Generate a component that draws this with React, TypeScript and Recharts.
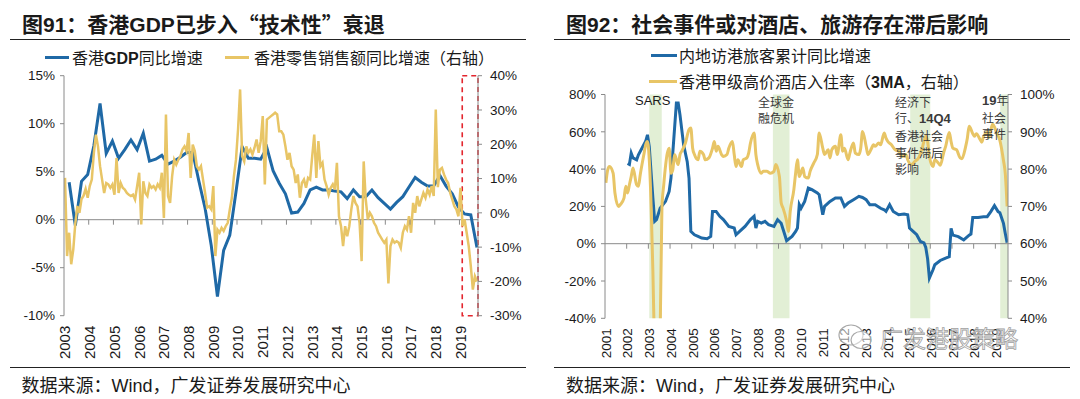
import React from 'react';
import { ComposedChart, Line, XAxis, YAxis, ReferenceLine, ReferenceArea, Scatter } from 'recharts';

const BLUE = '#1f69a6';
const GOLD = '#e8c566';
const AXIS = '#8a8a8a';
const TXT = '#1a1a1a';
const CJK = '"Noto Sans CJK SC", "Liberation Sans", sans-serif';
const ARIAL = '"Liberation Sans", Arial, sans-serif';

// ---------- Figure 91 ----------
const leftYears = ['2003', '2004', '2005', '2006', '2007', '2008', '2009', '2010', '2011', '2012', '2013', '2014', '2015', '2016', '2017', '2018', '2019'];
// HK GDP yoy, quarterly 2003Q1 .. 2019Q3 (%)
const gdpYoY = [
  3.9, -0.6, 4.0, 4.7,
  7.7, 12.1, 6.9, 8.2,
  6.4, 7.3, 8.3, 7.3,
  9.0, 6.1, 6.3, 6.7,
  5.8, 6.1, 6.5, 7.0,
  7.0, 4.0, 1.2, -2.7,
  -8.0, -3.2, -1.6, 2.9,
  7.6, 6.4, 6.4, 6.3,
  7.5, 5.1, 3.8, 2.7,
  0.7, 0.8, 1.7, 3.1,
  3.4, 3.1, 3.1, 3.0,
  2.9, 2.2, 3.1, 2.4,
  2.4, 3.1, 2.3, 1.7,
  1.1, 1.8, 2.4, 3.4,
  4.4, 3.9, 3.5, 3.5,
  4.6, 3.5, 2.7, 1.3,
  0.6, 0.5, -2.9,
];
// HK retail sales value yoy, monthly Jan 2003 .. Sep 2019 (%, right axis)
const retailYoY = [
  10.2, -12.6, -5.8, -15, -10.7, -3, 2, 0, 4, 5, 7, 4.4,
  7.8, 9.7, 17.5, 22.8, 19.4, 13.6, 9.7, 5.8, 8.7, 8.3, 7.3, 8.3,
  5.3, 16, 5.8, 8.7, 7.3, 6.8, 5.8, 5.3, 4.9, 5.3, 3.9, 7.8,
  11.7, -3.4, 9.2, 5.8, 4.9, 8.3, 7.3, 7.8, 6.8, 8.3, 7.3, 11.7,
  -1.5, 28.7, 4.9, 2.9, 10.7, 15.5, 14.1, 15.5, 16.5, 18.5, 19.4, 18,
  23.3, 10.2, 19.9, 18, 13.6, 12.6, 13.6, 9.7, 5.8, 1.5, 1.9, 1,
  7.8, -12.6, -4.9, -5.8, -4.4, -5.3, -3.9, -2.9, 1, 4.4, 10.7, 15.5,
  24.3, 36, 16.5, 15, 19.4, 17.5, 18.5, 17, 19, 21.4, 17.5, 20.9,
  28.2, 8.3, 27.2, 27.7, 28.2, 28.7, 29.2, 28.7, 23.8, 23.8, 22.8, 19.4,
  15.5, 17.5, 13.6, 12.6, 8.7, 11.2, 4.4, 8.7, 9.7, 7.3, 10.2, 9.7,
  16.5, 22.8, 10.2, 20.9, 13.6, 14.6, 9.7, 7.8, 5.3, 7.3, 8.3, 6.8,
  14.6, -1, -3.9, -9.7, -3.9, -6.8, -3.9, 1, 4.9, 2.9, 1.9, -2.9,
  -14.1, 15, 3.9, -1.9, 0, -1, -2.9, -3.9, -5.8, -6.8, -7.8, -8.7,
  -7.8, -20.6, -9.7, -7.8, -8.7, -8.3, -8.7, -10.2, -5.8, -3.9, -4.9, -1,
  -5.8, 2.9, 0, 4.9, 1.9, 3.9, 5.8, 4.4, 6.8, 5.3, 7.8, 4.9,
  30.1, 7.5, 12.6, 13.1, 11.2, 9.7, 8.7, 5.8, 3.9, 1.9, 1.0, -1,
  7.3, -3.9, -1.9, -5.8, -9.7, -15.5, -22.4, -18.5, -20,
];
const leftTicksL = [-10, -5, 0, 5, 10, 15];
const leftTicksR = [-30, -20, -10, 0, 10, 20, 30, 40];
const recessionWindow = [192.85, 200.5]; // months since Jan 2003

// ---------- Figure 92 ----------
const rightYears = ['2001', '2002', '2003', '2004', '2005', '2006', '2007', '2008', '2009', '2010', '2011', '2012', '2013', '2014', '2015', '2016', '2017', '2018', '2019'];
// [months since Jan 2001, mainland visitor arrivals cumulative yoy %]
const visitorYoY: [number, number][] = [
  [12, 43], [13, 42.5], [14, 48.6], [15, 46], [17, 45], [18, 47.7], [20, 51.3], [22, 54.9], [23, 58.4],
  [24, 52], [26, 24.5], [27, 12], [28, 12.9], [30, 19], [33, 22.7], [35, 28], [36, 35.2], [38, 62],
  [39, 75.4], [40, 75.4], [41, 69], [43, 53], [45, 44], [46, 35], [47, 6.6], [49, 4.8], [51, 3.9],
  [53, 3], [56, 2.7], [58, 3.9], [59, 17.3], [61, 17.3], [63, 14.7], [65, 12.9], [68, 9.3], [71, 8.4],
  [72, 4.8], [74, 6.6], [77, 9.3], [80, 12.9], [82, 14.7], [83, 8.4], [84, 12], [86, 11], [88, 12],
  [90, 10.2], [93, 9.3], [95, 12.9], [97, 11], [99, 4.8], [100, 1.6], [103, 3.9], [105, 6.6], [106, 8.4],
  [107, 21], [108, 19], [110, 22.7], [112, 29.8], [114, 29], [117, 27.2], [118, 26.3], [120, 15.5],
  [121, 20], [124, 22.7], [127, 24.5], [130, 24.5], [132, 20], [134, 21.8], [137, 23.6], [140, 25.4],
  [142, 24.8], [144, 23.6], [146, 20.9], [149, 20.9], [152, 19], [154, 18.2], [155, 17.3], [157, 20.9],
  [159, 17.3], [162, 15.5], [165, 15.9], [167, 15.5], [168, 8.4], [170, 6.6], [172, 4.8], [174, 1.2],
  [176, 0.4], [177, -2], [178, -8], [179, -18.4], [181, -14], [182, -11.3], [185, -9], [188, -7.7],
  [190, -7], [191, 8.2], [192, 4.6], [195, 3.8], [198, 2], [201, 4.6], [202, 5.2], [203, 14.1],
  [206, 14.1], [209, 14.5], [211, 14.5], [213, 17.2], [215, 20.4], [217, 17.2], [218, 16.6], [220, 10.9],
  [221, 5.5], [222, 0.5],
];
// [months since Jan 2001, HK high tariff A hotel occupancy 3MA %]
const hotelOcc: [number, number][] = [
  [0, 76.3], [1, 79.8], [2, 80.7], [4, 78.9], [5, 73.6], [7, 70], [8, 70.5], [10, 72.2], [11, 75.4],
  [12, 73.6], [13, 75.8], [14, 78], [15, 80.3], [17, 75.8], [18, 75.4], [19, 78.5], [21, 83.9], [22, 86.5],
  [23, 87.4], [24, 82.5], [25, 70.5], [26, 52.6], [27, 30], [28, 22], [29, 24], [30, 35], [31, 69.6],
  [32, 75.8], [34, 84.3], [35, 85.6], [36, 78.9], [37, 79.8], [38, 83.9], [40, 81.2], [41, 83.9],
  [42, 84.8], [44, 87], [46, 90.6], [47, 91], [48, 85.6], [49, 83.9], [51, 82.5], [52, 84.8], [54, 83.9],
  [55, 82.5], [57, 83], [59, 85.6], [60, 87.4], [61, 84.8], [62, 86.1], [64, 83.9], [65, 83.4], [67, 83.9],
  [68, 85.6], [70, 87.4], [71, 83.9], [72, 80.7], [73, 82.5], [75, 80.7], [76, 82.5], [78, 83], [79, 84.3],
  [80, 87], [82, 89.7], [83, 83.9], [84, 81.2], [86, 78.9], [87, 79.4], [89, 79.4], [91, 78.9], [93, 79.4],
  [94, 81.2], [96, 78], [97, 70.9], [98, 69.6], [100, 66], [101, 63.3], [102, 68.7], [104, 74.5],
  [105, 79], [106, 82.5], [107, 78], [109, 80.3], [110, 78], [112, 77.6], [113, 79.4], [115, 81.6],
  [117, 83.9], [118, 89.7], [120, 85.6], [121, 83.9], [123, 85.2], [124, 83], [125, 85.2], [127, 86.1],
  [128, 83.9], [130, 89.2], [131, 84.8], [132, 85.6], [134, 82.5], [135, 84.3], [137, 87], [138, 84.3],
  [140, 83.9], [141, 85.6], [142, 90.1], [144, 86.1], [145, 83.9], [147, 85.6], [148, 86.5], [149, 86.1],
  [151, 87], [152, 86.5], [154, 89.7], [155, 88.3], [156, 87.4], [158, 86.5], [160, 85.2], [162, 84.8],
  [164, 83.4], [166, 83.9], [167, 82.5], [169, 81.2], [171, 82.1], [173, 83], [175, 85.6], [177, 88.8],
  [178, 87.4], [179, 83.4], [181, 80.7], [182, 82.5], [184, 81.6], [185, 81], [187, 84.6], [188, 86.1],
  [190, 89.8], [191, 87.4], [192, 85.6], [194, 85.2], [196, 83], [197, 82.8], [199, 85.9], [200, 88.3],
  [201, 91.5], [203, 89.5], [204, 88.8], [205, 89.5], [207, 88], [208, 87.2], [209, 88.8], [210, 89.5],
  [211, 90], [212, 88.5], [213, 90.5], [214, 92], [215, 91.3], [216, 89.9], [218, 87.7], [220, 82.3],
  [221, 78.8], [222, 70],
];
const rightTicksL = [-40, -20, 0, 20, 40, 60, 80];
const rightTicksR = [40, 50, 60, 70, 80, 90, 100];
// shaded event windows, months since Jan 2001
const eventBands: [number, number][] = [[24, 30.9], [92.4, 101.6], [168.4, 179.5], [218.2, 222.5]];

const pct = (v: number) => `${v}%`;

const makeYearTick = (years: string[], fontSize: number) => (props: any) => {
  const { x, y, payload } = props;
  const label = years[Math.round(payload.value / 12)];
  return (
    <g transform={`translate(${x},${y})`}>
      <text transform="rotate(-90)" textAnchor="end" dy="0.36em" fontSize={fontSize} fill={TXT} fontFamily={ARIAL}>
        {label}
      </text>
    </g>
  );
};

const TickMark = (p: any) => (
  <line x1={p.cx} y1={p.cy} x2={p.cx} y2={p.cy + 5} stroke={AXIS} strokeWidth={1} />
);

const yTick = { fill: TXT, fontSize: 13.5, fontFamily: ARIAL };

function LeftChart() {
  const gdpData = gdpYoY.map((v, i) => ({ m: 2 + 3 * i, v }));
  const retailData = retailYoY.map((v, i) => ({ m: i, v }));
  const marks = leftYears.slice(1).map((_, k) => ({ m: 12 * (k + 1) - 0.5, y: 0 }));
  return (
    <ComposedChart width={540} height={399} margin={{ top: 75.7, right: 0, bottom: 33.3, left: 0 }}>
      <XAxis dataKey="m" type="number" domain={[-0.5, 200.5]} allowDataOverflow
        ticks={leftYears.map((_, k) => 12 * k)} interval={0}
        axisLine={false} tickLine={false} tickSize={0} tickMargin={10} height={50}
        tick={makeYearTick(leftYears, 15)} />
      <YAxis yAxisId="l" orientation="left" width={64} domain={[-10, 15]} ticks={leftTicksL} interval={0}
        allowDataOverflow tickFormatter={pct} tick={yTick} tickSize={4} tickMargin={5}
        axisLine={{ stroke: AXIS }} tickLine={{ stroke: AXIS }} />
      <YAxis yAxisId="r" orientation="right" width={62} domain={[-30, 40]} ticks={leftTicksR} interval={0}
        allowDataOverflow tickFormatter={pct} tick={yTick} tickSize={4} tickMargin={8}
        axisLine={{ stroke: AXIS }} tickLine={{ stroke: AXIS }} />
      <ReferenceLine yAxisId="l" y={0} stroke={AXIS} strokeWidth={1} />
      <Scatter yAxisId="l" data={marks} dataKey="y" shape={TickMark} isAnimationActive={false} />
      <Line yAxisId="l" data={gdpData} dataKey="v" type="linear" stroke={BLUE} strokeWidth={3} dot={false} isAnimationActive={false} />
      <Line yAxisId="r" data={retailData} dataKey="v" type="linear" stroke={GOLD} strokeWidth={2.5} dot={false} isAnimationActive={false} />
      <ReferenceArea yAxisId="l" x1={recessionWindow[0]} x2={recessionWindow[1]} y1={-10} y2={15}
        fill="none" fillOpacity={0} stroke="#e3262e" strokeDasharray="5 4" strokeWidth={1.6} />
    </ComposedChart>
  );
}

function RightChart() {
  const visitorData = visitorYoY.map(([m, v]) => ({ m, v }));
  const hotelData = hotelOcc.map(([m, v]) => ({ m, v }));
  const marks = rightYears.slice(1).map((_, k) => ({ m: 12 * (k + 1) - 0.5, y: 0 }));
  return (
    <ComposedChart width={540} height={399} margin={{ top: 94.5, right: 0, bottom: 30.7, left: 0 }}>
      <XAxis dataKey="m" type="number" domain={[-0.5, 222.5]} allowDataOverflow
        ticks={rightYears.map((_, k) => 12 * k)} interval={0}
        axisLine={false} tickLine={false} tickSize={0} tickMargin={10} height={50}
        tick={makeYearTick(rightYears, 13.5)} />
      <YAxis yAxisId="l" orientation="left" width={65} domain={[-40, 80]} ticks={rightTicksL} interval={0}
        allowDataOverflow tickFormatter={pct} tick={yTick} tickSize={4} tickMargin={5}
        axisLine={{ stroke: AXIS }} tickLine={{ stroke: AXIS }} />
      <YAxis yAxisId="r" orientation="right" width={72} domain={[40, 100]} ticks={rightTicksR} interval={0}
        allowDataOverflow tickFormatter={pct} tick={yTick} tickSize={4} tickMargin={8}
        axisLine={{ stroke: AXIS }} tickLine={{ stroke: AXIS }} />
      {eventBands.map(([a, b], i) => (
        <ReferenceArea key={i} yAxisId="l" x1={a} x2={b} y1={-40} y2={80} fill="#e2efd5" fillOpacity={1} stroke="none" />
      ))}
      <ReferenceLine yAxisId="l" y={0} stroke={AXIS} strokeWidth={1} />
      <Scatter yAxisId="l" data={marks} dataKey="y" shape={TickMark} isAnimationActive={false} />
      <Line yAxisId="l" data={visitorData} dataKey="v" type="linear" stroke={BLUE} strokeWidth={3} dot={false} isAnimationActive={false} />
      <Line yAxisId="r" data={hotelData} dataKey="v" type="monotone" stroke={GOLD} strokeWidth={3} dot={false} isAnimationActive={false} />
    </ComposedChart>
  );
}

const abs = (left: number, top: number, extra: React.CSSProperties = {}): React.CSSProperties => ({
  position: 'absolute', left, top, whiteSpace: 'nowrap', ...extra,
});

const titleStyle: React.CSSProperties = { fontSize: 21, fontWeight: 700, lineHeight: '24px', color: TXT, fontFamily: CJK };
const legendStyle: React.CSSProperties = { fontSize: 16, lineHeight: '18px', color: TXT, fontFamily: CJK };
const footStyle: React.CSSProperties = { fontSize: 18, lineHeight: '20px', color: TXT, fontFamily: CJK };
const noteStyle: React.CSSProperties = { fontSize: 12, lineHeight: '16.6px', color: '#3a3a3a', fontFamily: CJK };

export default function App() {
  return (
    <div style={{ position: 'absolute', left: 0, top: 0, width: 1080, height: 399, background: '#fff', overflow: 'hidden' }}>
      {/* Left panel */}
      <div style={abs(22, 10.5, titleStyle)}>
        图<span style={{ fontFamily: ARIAL }}>91</span>：香港<span style={{ fontFamily: ARIAL }}>GDP</span>已步入“技术性”衰退
      </div>
      <div style={abs(10, 39, { width: 516, height: 1.3, background: '#222' })} />
      <div style={abs(45, 55.5, { width: 24, height: 3, background: BLUE })} />
      <div style={abs(72, 48, legendStyle)}>香港<span style={{ fontFamily: ARIAL, fontWeight: 700 }}>GDP</span>同比增速</div>
      <div style={abs(225, 55.5, { width: 24, height: 3, background: GOLD })} />
      <div style={abs(254, 48, legendStyle)}>香港零售销售额同比增速（右轴）</div>
      <div style={abs(0, 0, { width: 540, height: 399 })}>
        <LeftChart />
      </div>
      <div style={abs(10, 366.5, { width: 516, height: 1.3, background: '#222' })} />
      <div style={abs(21.5, 374, footStyle)}>数据来源：<span style={{ fontFamily: ARIAL }}>Wind</span>，广发证券发展研究中心</div>

      {/* Right panel */}
      <div style={abs(566, 10.5, titleStyle)}>
        图<span style={{ fontFamily: ARIAL }}>92</span>：社会事件或对酒店、旅游存在滞后影响
      </div>
      <div style={abs(554, 39, { width: 516, height: 1.3, background: '#222' })} />
      <div style={abs(540, 0, { width: 540, height: 399 })}>
        <RightChart />
      </div>
      <div style={abs(651, 54, { width: 26, height: 3, background: BLUE })} />
      <div style={abs(679, 46, legendStyle)}>内地访港旅客累计同比增速</div>
      <div style={abs(649, 79.5, { width: 28, height: 3, background: GOLD })} />
      <div style={abs(679, 71.5, legendStyle)}>
        香港甲级高价酒店入住率（<span style={{ fontFamily: ARIAL, fontWeight: 700 }}>3MA</span>，右轴）
      </div>
      <div style={abs(635, 93, { fontSize: 13, lineHeight: '16px', color: TXT, fontFamily: ARIAL })}>SARS</div>
      <div style={abs(758, 93.8, noteStyle)}>全球金<br />融危机</div>
      <div style={abs(895, 93.8, noteStyle)}>
        经济下<br />行、<span style={{ fontFamily: ARIAL, fontWeight: 700, fontSize: 13 }}>14Q4</span><br />香港社会<br />事件滞后<br />影响
      </div>
      <div style={abs(982, 92, noteStyle)}>
        <span style={{ fontFamily: ARIAL, fontWeight: 700, fontSize: 13 }}>19</span>年<br />社会<br />事件
      </div>
      <div style={abs(554, 366.5, { width: 516, height: 1.3, background: '#222' })} />
      <div style={abs(566, 374, footStyle)}>数据来源：<span style={{ fontFamily: ARIAL }}>Wind</span>，广发证券发展研究中心</div>

      {/* watermark */}
      <svg style={abs(836, 322, { overflow: 'visible' })} width={40} height={30}>
        <ellipse cx={15} cy={13} rx={12} ry={10} fill="rgba(255,255,255,0.5)" stroke="#a8a8a8" strokeWidth={1.2} />
        <ellipse cx={25} cy={18} rx={10} ry={8.5} fill="rgba(255,255,255,0.5)" stroke="#a8a8a8" strokeWidth={1.2} />
      </svg>
      <div style={abs(880, 328, { fontSize: 23, lineHeight: '18px', height: 18, fontFamily: CJK, color: 'rgba(255,255,255,0.55)', WebkitTextStroke: '0.8px #a0a0a0' })}>
        广发港股策略
      </div>
    </div>
  );
}
